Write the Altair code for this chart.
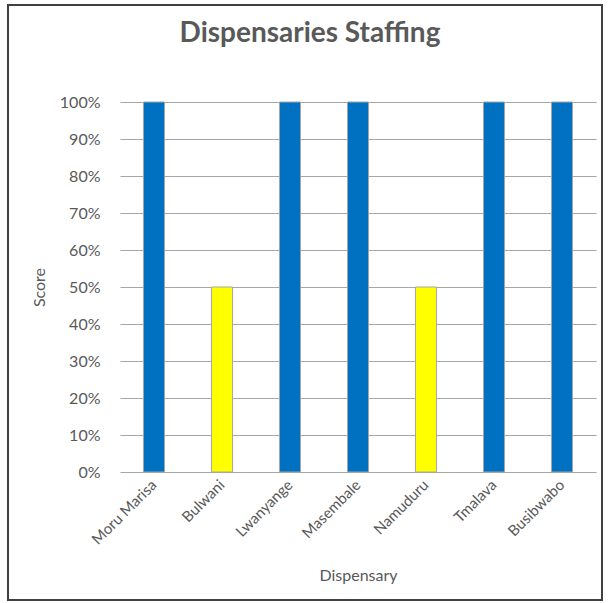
import altair as alt
import pandas as pd

dispensaries = ["Moru Marisa", "Bulwani", "Lwanyange", "Masembale", "Namuduru", "Tmalava", "Busibwabo"]
scores = [1.0, 0.5, 1.0, 1.0, 0.5, 1.0, 1.0]
status = ["Full", "Half", "Full", "Full", "Half", "Full", "Full"]

df = pd.DataFrame({"Dispensary": dispensaries, "Score": scores, "Status": status})

FONT = "Lato"
GREY = "#595959"

bars = alt.Chart(df).mark_bar(stroke="#a6a6a6", strokeWidth=1).encode(
    x=alt.X("Dispensary:N", sort=dispensaries,
            scale=alt.Scale(paddingInner=0.69, paddingOuter=0.345),
            axis=alt.Axis(title="Dispensary", labelAngle=-45, labelAlign="right",
                          labelBaseline="middle", labelPadding=10, ticks=False,
                          domain=False, labelFontSize=15, labelColor=GREY,
                          titleFontSize=16, titleFontWeight="normal", titleColor=GREY,
                          titlePadding=20, labelFont=FONT, titleFont=FONT)),
    y=alt.Y("Score:Q", scale=alt.Scale(domain=[0, 1]),
            axis=alt.Axis(title="Score", format=".0%", values=[i / 10 for i in range(11)],
                          ticks=False, domain=False, labelFontSize=16, labelColor=GREY,
                          labelPadding=20, titleFontSize=16, titleFontWeight="normal",
                          titleColor=GREY, titlePadding=12, gridColor="#a6a6a6",
                          gridWidth=1, labelFont=FONT, titleFont=FONT)),
    color=alt.Color("Status:N", scale=alt.Scale(domain=["Full", "Half"], range=["#0070C0", "#FFFF00"]),
                    legend=None),
)

border = alt.Chart(df).mark_rect(fill=None, stroke="#404040", strokeWidth=1.5).encode(
    x=alt.value(-112), x2=alt.value(482), y=alt.value(-97), y2=alt.value(498)
)

chart = alt.layer(border, bars).properties(
    width=476, height=370,
    autosize=alt.AutoSizeParams(type="none"),
    padding={"left": 120, "top": 102, "right": 12, "bottom": 131},
    title=alt.TitleParams("Dispensaries Staffing", fontSize=28, font=FONT, fontWeight="bold",
                          color=GREY, anchor="middle", dx=-48, offset=-44),
).configure_view(stroke=None)

chart.save("out.html", embed_options={"renderer": "svg", "actions": False})
